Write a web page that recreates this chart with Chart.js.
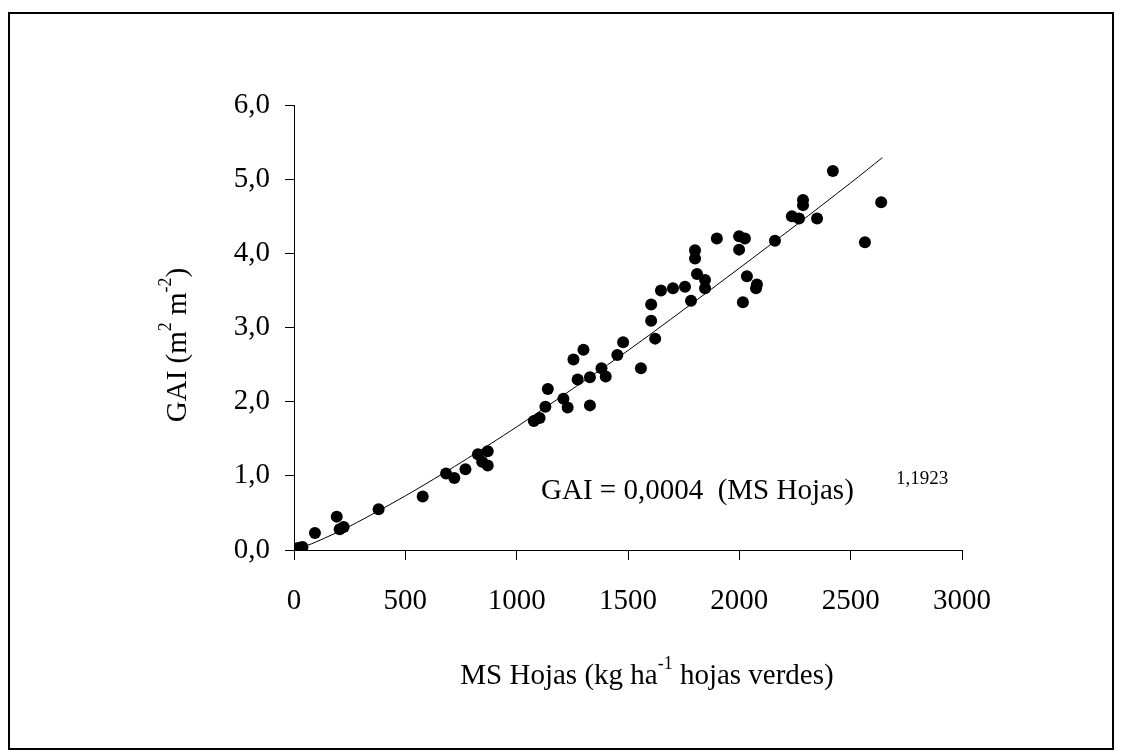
<!DOCTYPE html>
<html>
<head>
<meta charset="utf-8">
<script src="https://cdn.jsdelivr.net/npm/chart.js@4.4.1/dist/chart.umd.min.js"></script>
<style>
  html, body { margin: 0; padding: 0; background: #fff; }
  #wrap { width: 1127px; height: 753px; }
</style>
</head>
<body>
<div id="wrap"><canvas id="gai" width="1127" height="753"></canvas></div>
<script>
// observed GAI vs green leaf dry matter
const msHojas = [0, 12, 25, 38, 94, 192, 205, 223, 380, 578, 683, 720, 770, 826, 845, 870, 870,
  1077, 1103, 1129, 1140, 1210, 1229, 1255, 1274, 1300, 1329, 1329, 1381, 1400, 1452, 1478, 1558,
  1604, 1604, 1622, 1648, 1702, 1756, 1783, 1801, 1801, 1810, 1846, 1846, 1899, 1999, 1999, 2025,
  2016, 2034, 2075, 2079, 2160, 2236, 2268, 2286, 2286, 2349, 2420, 2564, 2637];
const gai = [0.01, 0.02, 0.03, 0.04, 0.23, 0.45, 0.28, 0.31, 0.55, 0.72, 1.03, 0.97, 1.09, 1.29, 1.19, 1.33, 1.14,
  1.74, 1.78, 1.93, 2.17, 2.04, 1.92, 2.57, 2.30, 2.70, 2.33, 1.95, 2.45, 2.34, 2.63, 2.80, 2.45,
  3.09, 3.31, 2.85, 3.50, 3.53, 3.55, 3.36, 4.04, 3.93, 3.72, 3.64, 3.53, 4.20, 4.05, 4.23, 4.20,
  3.34, 3.69, 3.53, 3.58, 4.17, 4.50, 4.47, 4.65, 4.72, 4.47, 5.11, 4.15, 4.69];

// fitted power curve
const trendX = [15, 100, 250, 500, 750, 1000, 1250, 1500, 1750, 2000, 2250, 2500, 2642];
const trendY = [0.01, 0.11, 0.32, 0.73, 1.18, 1.66, 2.17, 2.69, 3.24, 3.80, 4.37, 4.95, 5.29];

const xTicks = [0, 500, 1000, 1500, 2000, 2500, 3000];
const yTicks = [0, 1, 2, 3, 4, 5, 6];

const serif = "'Liberation Serif', 'Times New Roman', serif";
const fontSize = 29;

function toXY(xs, ys) {
  return xs.map((x, i) => ({ x: x, y: ys[i] }));
}

// draws runs of normal/superscript text starting at x
function drawRuns(ctx, runs, x, y, size) {
  runs.forEach(r => {
    const fs = r.sup ? size * 0.62 : size;
    ctx.font = fs + "px " + serif;
    ctx.fillText(r.t, x, r.sup ? y - size * 0.42 : y);
    x += ctx.measureText(r.t).width;
  });
}
function runsWidth(ctx, runs, size) {
  let w = 0;
  runs.forEach(r => {
    ctx.font = (r.sup ? size * 0.62 : size) + "px " + serif;
    w += ctx.measureText(r.t).width;
  });
  return w;
}

const labels = {
  id: "labels",
  beforeDraw(chart) {
    const ctx = chart.ctx;
    ctx.save();
    ctx.strokeStyle = "#000";
    ctx.lineWidth = 2;
    ctx.strokeRect(9, 13, 1104, 736);
    ctx.restore();
  },
  afterDraw(chart) {
    const ctx = chart.ctx;
    ctx.save();
    ctx.fillStyle = "#000";
    ctx.textBaseline = "middle";

    // x axis title
    const xt = [{ t: "MS Hojas (kg ha" }, { t: "-1", sup: true }, { t: " hojas verdes)" }];
    drawRuns(ctx, xt, 647 - runsWidth(ctx, xt, fontSize) / 2, 676, fontSize);

    // y axis title
    const yt = [{ t: "GAI (m" }, { t: "2", sup: true }, { t: " m" }, { t: "-2", sup: true }, { t: ")" }];
    ctx.save();
    ctx.translate(178, 345);
    ctx.rotate(-Math.PI / 2);
    drawRuns(ctx, yt, -runsWidth(ctx, yt, fontSize) / 2, 0, fontSize);
    ctx.restore();

    // regression equation
    ctx.font = fontSize + "px " + serif;
    ctx.fillText("GAI = 0,0004  (MS Hojas)", 541, 491);
    ctx.font = "19px " + serif;
    ctx.fillText("1,1923", 896, 479);
    ctx.restore();
  }
};

new Chart("gai", {
  type: "scatter",
  data: {
    datasets: [{
      data: toXY(trendX, trendY),
      showLine: true,
      borderColor: "#000",
      borderWidth: 1,
      pointRadius: 0,
      tension: 0.3,
      order: 2
    }, {
      data: toXY(msHojas, gai),
      backgroundColor: "#000",
      borderWidth: 0,
      pointRadius: 6,
      order: 1
    }]
  },
  options: {
    responsive: false,
    animation: false,
    layout: { padding: { top: 105, right: 165, left: 0, bottom: 0 } },
    plugins: { legend: { display: false }, tooltip: { enabled: false } },
    scales: {
      x: {
        type: "linear",
        min: 0, max: 3000,
        afterBuildTicks: s => { s.ticks = xTicks.map(v => ({ value: v })); },
        afterFit: s => { s.height = 203; },
        ticks: {
          color: "#000", font: { family: serif, size: fontSize }, padding: 24, maxRotation: 0,
          callback: v => String(v)
        },
        grid: { drawOnChartArea: false, tickLength: 10, color: "#000" },
        border: { color: "#000", width: 1 }
      },
      y: {
        min: 0, max: 6,
        afterBuildTicks: s => { s.ticks = yTicks.map(v => ({ value: v })); },
        afterFit: s => { s.width = 294; },
        ticks: {
          color: "#000", font: { family: serif, size: fontSize }, padding: 15,
          callback: v => v.toFixed(1).replace(".", ",")
        },
        grid: { drawOnChartArea: false, tickLength: 9, color: "#000" },
        border: { color: "#000", width: 1 }
      }
    }
  },
  plugins: [labels]
});
</script>
</body>
</html>
